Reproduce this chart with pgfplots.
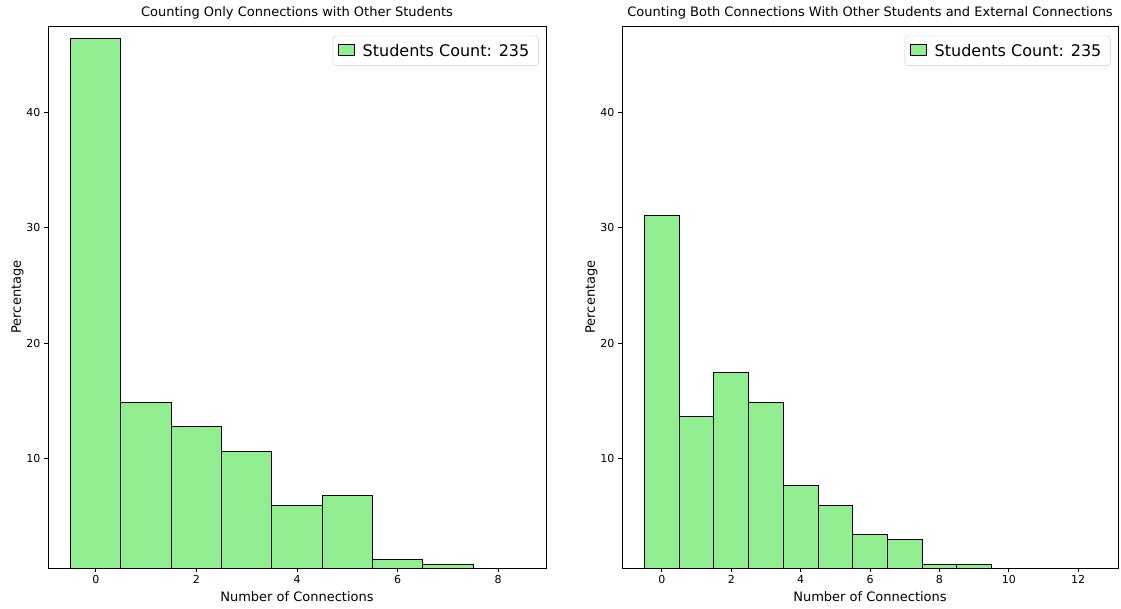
\documentclass[border=0pt]{standalone}
\usepackage{fontspec}
\setmainfont{DejaVu Sans}
\usepackage{pgfplots}
\pgfplotsset{compat=1.18}
\definecolor{barfill}{HTML}{90EE90}
\definecolor{legframe}{HTML}{CCCCCC}

\pgfplotsset{
  histax/.style={
    scale only axis,
    width=498pt, height=542pt,
    ymin=0.5, ymax=47.5,
    ytick={10,20,30,40},
    xtick pos=bottom, ytick pos=left,
    tick align=outside,
    major tick length=4pt,
    every tick/.style={black, line width=0.8pt},
    axis line style={black, line width=0.8pt},
    tick label style={font=\fontsize{11}{13}\selectfont},
    /pgf/number format/assume math mode=true,
    label style={font=\fontsize{13}{15}\selectfont},
    title style={font=\fontsize{13}{15}\selectfont, yshift=-3pt},
    xlabel={Number of Connections},
    ylabel={Percentage},
    xlabel style={yshift=-1pt},
    ylabel style={yshift=-4pt},
    legend style={font=\fontsize{16}{18}\selectfont, draw=legframe, rounded corners=3pt,
      inner xsep=5pt, inner ysep=6pt, at={(0.985,0.982)}, anchor=north east,
      nodes={inner xsep=4pt}},
    legend image code/.code={
      \draw[sharp corners, fill=barfill, draw=black, line width=0.8pt]
        (0pt,-5pt) rectangle (16pt,6pt);
    },
    clip=false,
  },
  histbar/.style={ybar interval, fill=barfill, draw=black, line width=0.9pt},
}

\begin{document}
\begin{tikzpicture}[x=1pt,y=1pt]
\useasboundingbox (0,0) rectangle (1121,609);

% Only connections among students
\begin{axis}[histax, at={(48pt,41pt)}, anchor=south west,
  xmin=-0.95, xmax=8.95, xtick={0,2,4,6,8},
  title={Counting Only Connections with Other Students}]
\addplot[histbar] coordinates {
  (-0.5,46.38) (0.5,14.89) (1.5,12.77) (2.5,10.64) (3.5,5.96)
  (4.5,6.81) (5.5,1.28) (6.5,0.85) (7.5,0.85)
};
\addlegendentry{\hspace{4pt}Students Count: 235}
\end{axis}

% Connections among students plus external connections
\begin{axis}[histax, at={(622pt,41pt)}, anchor=south west, width=496pt,
  xmin=-1.15, xmax=13.15, xtick={0,2,4,6,8,10,12},
  title={Counting Both Connections With Other Students and External Connections}]
\addplot[histbar] coordinates {
  (-0.5,31.06) (0.5,13.62) (1.5,17.45) (2.5,14.89) (3.5,7.66)
  (4.5,5.96) (5.5,3.40) (6.5,2.98) (7.5,0.85) (8.5,0.85) (9.5,0.85)
};
\addlegendentry{\hspace{4pt}Students Count: 235}
\end{axis}
\end{tikzpicture}
\end{document}
